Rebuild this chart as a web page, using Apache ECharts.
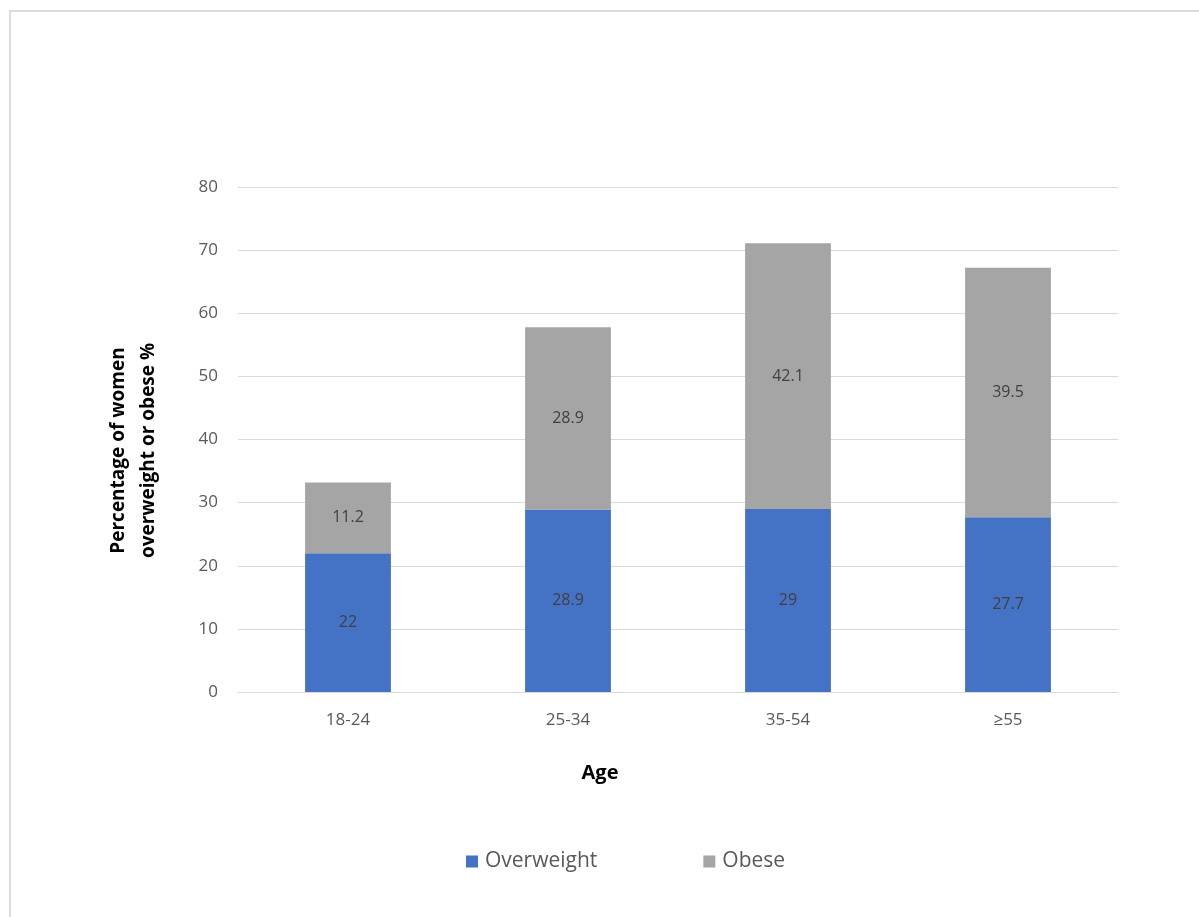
<!DOCTYPE html>
<html>
<head>
<meta charset="utf-8">
<script src="https://cdn.jsdelivr.net/npm/echarts@6/dist/echarts.min.js"></script>
<style>
  html, body { margin: 0; padding: 0; background: #fff; }
  #frame { position: absolute; left: 9px; top: 10px; width: 1190px; height: 907px;
           border-top: 2px solid #dcdcdc; border-left: 2px solid #dcdcdc; box-sizing: border-box; }
  #chart { position: absolute; left: 0; top: 0; width: 1199px; height: 917px; }
</style>
</head>
<body>
<div id="frame"></div>
<div id="chart"></div>
<script>
const ageGroups = ['18-24', '25-34', '35-54', '\u226555'];
const overweight = [22, 28.9, 29, 27.7];
const obese = [11.2, 28.9, 42.1, 39.5];
const yTicks = { min: 0, max: 80, interval: 10 };

const FONT = '"Open Sans", Lato, sans-serif';
const chart = echarts.init(document.getElementById('chart'), null, { renderer: 'canvas' });

const labelStyle = { show: true, position: 'inside', color: '#404040', fontSize: 16, fontFamily: FONT };

chart.setOption({
  animation: false,
  textStyle: { fontFamily: FONT },
  grid: { left: 238, right: 81, top: 187, bottom: 225 },
  legend: {
    top: 846, left: 461, itemGap: 106, itemWidth: 12, itemHeight: 12,
    icon: 'rect',
    textStyle: { color: '#595959', fontSize: 21, fontFamily: FONT, padding: [0, 0, 0, 2] },
    data: ['Overweight', 'Obese']
  },
  xAxis: {
    type: 'category', data: ageGroups,
    name: 'Age', nameLocation: 'middle', nameGap: 71,
    nameTextStyle: { color: '#000', fontWeight: 'bold', fontSize: 20, fontFamily: FONT,
                     padding: [0, 156, 0, 0] },
    axisLine: { lineStyle: { color: '#d9d9d9', width: 1 } },
    axisTick: { show: false },
    axisLabel: { color: '#595959', fontSize: 17, margin: 20, fontFamily: FONT }
  },
  yAxis: {
    type: 'value', min: yTicks.min, max: yTicks.max, interval: yTicks.interval,
    name: 'Percentage of women\noverweight or obese %', nameLocation: 'middle', nameGap: 74,
    nameTextStyle: { color: '#000', fontWeight: 'bold', fontSize: 19, lineHeight: 30,
                     fontFamily: FONT, padding: [0, 22, 0, 0] },
    axisLine: { show: false },
    axisTick: { show: false },
    axisLabel: { color: '#595959', fontSize: 17, margin: 20, fontFamily: FONT },
    splitLine: { lineStyle: { color: '#d9d9d9', width: 1 } }
  },
  series: [
    { name: 'Overweight', type: 'bar', stack: 'total', data: overweight, barWidth: '39%',
      itemStyle: { color: '#4472C4' }, label: labelStyle },
    { name: 'Obese', type: 'bar', stack: 'total', data: obese, barWidth: '39%',
      itemStyle: { color: '#A5A5A5' }, label: labelStyle }
  ]
});
</script>
</body>
</html>
